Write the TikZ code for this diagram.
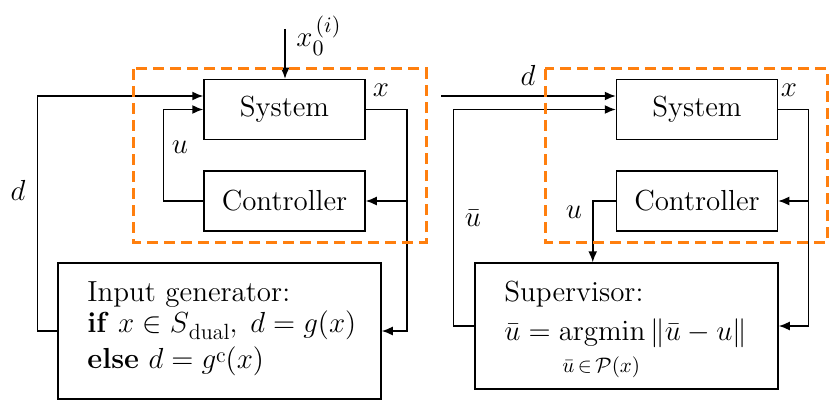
\RequirePackage{fix-cm}
\documentclass[tikz,border=0pt]{standalone}
\usepackage{amsmath}
\usetikzlibrary{arrows.meta}
\definecolor{myorange}{RGB}{255,127,14}
\newcommand{\mysub}[2]{\raisebox{#1}{\fontsize{11}{13}\selectfont #2}}
\begin{document}
\begin{tikzpicture}[x=0.5pt,y=-0.5pt,
 every node/.style={font=\fontsize{14.5}{17}\selectfont},
 blk/.style={draw, line width=0.75pt, minimum width=80.5pt, minimum height=30pt, inner sep=0pt},
 arr/.style={line width=0.75pt, -{Latex[length=5.5pt,width=4.5pt]}},
 grp/.style={draw=myorange, line width=1.5pt, dash pattern=on 5.5pt off 3pt},
 lbl/.style={inner sep=0pt},
 small/.style={inner sep=0pt, font=\fontsize{11}{13}\selectfont},
 txt/.style={anchor=base west, inner sep=0pt}]
\useasboundingbox (0,0) rectangle (829,401);

% left half
\node[blk] (sys1) at (284.5,109.5) {System};
\node[blk] (ctl1) at (284.5,201) {Controller};
\node[blk, minimum width=161.5pt, minimum height=68pt] (ig) at (219.5,331) {};
\node[txt] (ig1) at (87,301) {Input generator:};
\node[txt] (ig2) at (87,332) {\textbf{if} $x\in S$\mysub{-3.5pt}{dual}$,\; d = g(x)$};
\node[txt] (ig3) at (87,368) {\textbf{else} $d = g$\mysub{3pt}{c}$(x)$};

% right half
\node[blk] (sys2) at (697,109.5) {System};
\node[blk] (ctl2) at (697,201) {Controller};
\node[blk, minimum width=151.5pt, minimum height=63pt] (sup) at (626.5,326) {};
\node[txt] (sp1) at (504,301) {Supervisor:};
\node[txt] (sp2) at (504,340) {$\bar u = \mathrm{argmin}\,\|\bar u - u\|$};
\node[txt, font=\fontsize{10.5}{12}\selectfont] (sp3) at (562,372) {$\bar u\mkern-2mu\in\mkern-2mu\mathcal{P}(x)$};

% labels
\node[lbl] (lx0) at (304.5,40) {$x$};
\node[small] (lx0b) at (318,48) {$0$};
\node[small] (lx0p) at (328,27) {$(i)$};
\node[lbl] (lx1) at (381,90) {$x$};
\node[lbl] (lu1) at (180,147) {$u$};
\node[lbl] (ld1) at (18,190) {$d$};
\node[lbl] (ld2) at (528,75) {$d$};
\node[lbl] (lx2) at (789,90) {$x$};
\node[lbl] (lub) at (473,218) {$\bar u$};
\node[lbl] (lu2) at (574,212) {$u$};

% left connectors
\coordinate (x0top) at (285,29);
\draw[arr] (x0top) -- (x0top |- sys1.north);
\draw[arr] (ig.west) -- ++(-20,0) |- ([yshift=6.75pt]sys1.west);
\draw[arr] (ctl1.west) -- ++(-40,0) |- (sys1.west);
\draw[arr] (sys1.east) -- ++(41,0) coordinate (b1) |- (ig.east);
\draw[arr] (b1 |- ctl1.east) -- (ctl1.east);

% right connectors
\coordinate (dstart) at (441,96);
\draw[arr] (dstart) -- (dstart -| sys2.west);
\draw[arr] (sup.west) -- ++(-21,0) |- (sys2.west);
\draw[arr] (ctl2.west) -- ++(-23,0) coordinate (c2) -- (c2 |- sup.north);
\draw[arr] (sys2.east) -- ++(30,0) coordinate (b2) |- (sup.east);
\draw[arr] (b2 |- ctl2.east) -- (ctl2.east);

% dashed groups
\draw[grp] (133,69) rectangle (426,242);
\draw[grp] (545,69) rectangle (827,242);
\end{tikzpicture}
\end{document}
